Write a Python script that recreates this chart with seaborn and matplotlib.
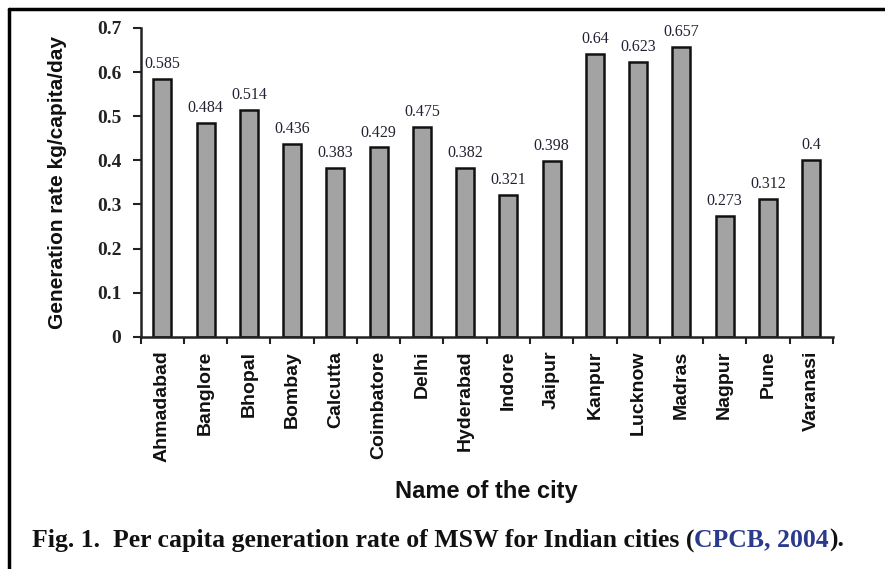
import matplotlib
matplotlib.use("Agg")
import matplotlib.pyplot as plt
import seaborn as sns
import numpy as np
import pandas as pd
from matplotlib.lines import Line2D

cities = ["Ahmadabad", "Banglore", "Bhopal", "Bombay", "Calcutta", "Coimbatore",
          "Delhi", "Hyderabad", "Indore", "Jaipur", "Kanpur", "Lucknow",
          "Madras", "Nagpur", "Pune", "Varanasi"]
rates = [0.585, 0.484, 0.514, 0.436, 0.383, 0.429, 0.475, 0.382,
         0.321, 0.398, 0.64, 0.623, 0.657, 0.273, 0.312, 0.4]
rate_labels = ["0.585", "0.484", "0.514", "0.436", "0.383", "0.429", "0.475", "0.382",
               "0.321", "0.398", "0.64", "0.623", "0.657", "0.273", "0.312", "0.4"]
yticks = [0, 0.1, 0.2, 0.3, 0.4, 0.5, 0.6, 0.7]
ytick_labels = ["0", "0.1", "0.2", "0.3", "0.4", "0.5", "0.6", "0.7"]

df = pd.DataFrame({"city": cities, "rate": rates})

sns.set_style("white")
plt.rcParams["font.family"] = ["Liberation Sans", "DejaVu Sans"]

fig = plt.figure(figsize=(8.85, 5.69), dpi=100)
ax = fig.add_axes([0.159, 0.408, 0.782, 0.543])

sns.barplot(data=df, x="city", y="rate", color="#a3a3a3", saturation=1,
            edgecolor="#111111", linewidth=1.8, width=0.42, ax=ax)

ax.set_xlim(-0.5, len(cities) - 0.5)
ax.set_ylim(0, 0.7)
for s in ["top", "right"]:
    ax.spines[s].set_visible(False)
for s in ["left", "bottom"]:
    ax.spines[s].set_linewidth(1.8)
    ax.spines[s].set_color("#222222")

# y ticks
ax.set_yticks(yticks)
ax.set_yticklabels(ytick_labels, family="Liberation Serif", fontweight="bold",
                   fontsize=14, color="#222222")
ax.tick_params(axis="y", direction="out", length=6, width=1.5, pad=8, left=True,
               color="#222222")

# x labels at bar centres, tick marks at category boundaries
ax.set_xticks(range(len(cities)))
ax.set_xticklabels(cities, rotation=90, fontsize=14, fontweight="bold",
                   color="#111111")
ax.tick_params(axis="x", which="major", length=0, pad=10)
ax.set_xticks(np.arange(-0.5, len(cities), 1.0), minor=True)
ax.tick_params(axis="x", which="minor", direction="out", length=5, width=1.5,
               color="#222222", bottom=True)

ax.set_ylabel("Generation rate kg/capita/day", fontsize=15, fontweight="bold",
              color="#111111")
ax.yaxis.set_label_coords(-0.107, 0.5)
ax.set_xlabel("Name of the city", fontsize=17, fontweight="bold", color="#111111")
ax.xaxis.set_label_coords(0.5, -0.463)

for i, (v, lab) in enumerate(zip(rates, rate_labels)):
    ax.annotate(lab, (i, v), xytext=(0, 5), textcoords="offset points",
                ha="center", va="bottom", family="Liberation Serif",
                fontsize=11.5, color="#222233")

# caption with the citation in blue
fig.canvas.draw()
renderer = fig.canvas.get_renderer()
x0 = 32 / 885
yc = 1 - 540 / 569
parts = [("Fig. 1.  Per capita generation rate of MSW for Indian cities (", "#111111"),
         ("CPCB, 2004", "#2a3a8c"),
         (").", "#111111")]
for txt, col in parts:
    t = fig.text(x0, yc, txt, family="Liberation Serif", fontsize=18.5,
                 fontweight="bold", color=col, ha="left", va="center")
    bb = t.get_window_extent(renderer)
    x0 = bb.x1 / fig.bbox.width

# frame lines (top and left) around the figure
fig.add_artist(Line2D([9 / 885, 1], [1 - 9 / 569, 1 - 9 / 569],
                      transform=fig.transFigure, color="black", lw=2.5))
fig.add_artist(Line2D([9 / 885, 9 / 885], [0, 1 - 9 / 569],
                      transform=fig.transFigure, color="black", lw=2.5))

fig.savefig("out.png", dpi=100)
